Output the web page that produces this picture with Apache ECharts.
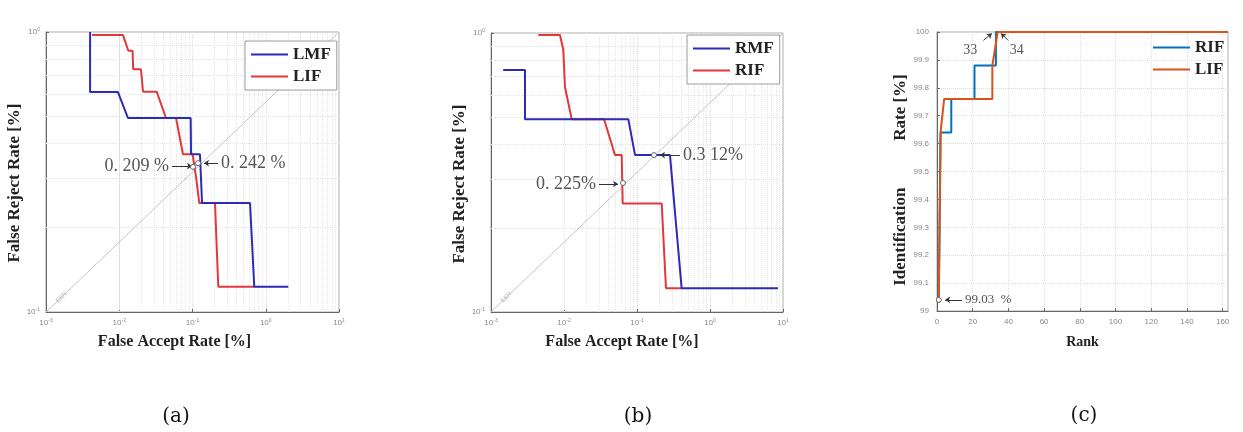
<!DOCTYPE html>
<html><head><meta charset="utf-8">
<script src="https://cdn.jsdelivr.net/npm/echarts@6/dist/echarts.min.js"></script>
<style>html,body{margin:0;padding:0;background:#fff}#c{width:1243px;height:432px}</style>
</head><body><div id="c"></div>
<script>
// ---------- Panel (a): left-side DET curves ----------
const lmfFAR = [0.004, 0.004, 0.0096, 0.01315, 0.0944, 0.0955, 0.1265, 0.135, 0.61, 0.697, 2.03];
const lmfFRR = [1.0, 0.61, 0.61, 0.493, 0.493, 0.366, 0.366, 0.245, 0.245, 0.123, 0.123];
const lifFAR = [0.00425, 0.01125, 0.0133, 0.0152, 0.0155, 0.0198, 0.0211, 0.0324, 0.0435, 0.0596, 0.0741, 0.1003, 0.1117, 0.1238, 0.2027, 0.225, 0.697];
const lifFRR = [0.975, 0.975, 0.857, 0.857, 0.736, 0.736, 0.612, 0.612, 0.493, 0.493, 0.366, 0.366, 0.304, 0.245, 0.245, 0.123, 0.123];
// ---------- Panel (b): right-side DET curves ----------
const rmfFAR = [0.00147, 0.00292, 0.00292, 0.076, 0.0941, 0.283, 0.409, 8.55];
const rmfFRR = [0.737, 0.737, 0.491, 0.491, 0.365, 0.365, 0.1216, 0.1216];
const rifFAR = [0.00445, 0.00881, 0.00978, 0.0103, 0.01275, 0.0354, 0.05, 0.0617, 0.0637, 0.2178, 0.2495, 0.409];
const rifFRR = [0.984, 0.984, 0.869, 0.642, 0.491, 0.491, 0.365, 0.365, 0.245, 0.245, 0.1216, 0.1216];
// ---------- Panel (c): CMC curves ----------
const rifRank = [1, 2, 8, 8, 21, 21, 33, 33, 163];
const rifRate = [99.03, 99.64, 99.64, 99.76, 99.76, 99.88, 99.88, 100, 100];
const lifRank = [1, 2, 4, 31, 31, 34, 163];
const lifRate = [99.03, 99.64, 99.76, 99.76, 99.88, 100, 100];
// EER reference diagonal (FAR, FRR)
const eerFAR = [0.001, 10];
const eerFRR = [0.1, 1];
// minor log grid multipliers and decades
const minorMult = [2, 3, 4, 5, 6, 7, 8, 9];
const decadesX = [0.001, 0.01, 0.1, 1];
// annotations (data units)
const annA = [
  {text: '0. 209 %', from: [0.0525, 0.332], to: [0.0985, 0.332], pt: [0.1016, 0.33]},
  {text: '0. 242 %', from: [0.223, 0.340], to: [0.1436, 0.340], pt: [0.119, 0.340]}
];
const annB = [
  {text: '0. 225%', from: [0.0301, 0.2875], to: [0.0550, 0.2875], pt: [0.0643, 0.290]},
  {text: '0.3 12%', from: [0.388, 0.365], to: [0.2065, 0.365], pt: [0.171, 0.365]}
];
const annC = [
  {text: '33', from: [26.0, 99.970], to: [30.7, 99.995], txt: [18.6, 99.935]},
  {text: '34', from: [39.8, 99.970], to: [35.9, 99.995], txt: [44.7, 99.935]}
];
const annC0 = {text: '99.03  %', from: [14, 99.04], to: [4.6, 99.04], pt: [1, 99.04]};

const serif = '"Liberation Serif", "Times New Roman", serif';
const sans = '"Liberation Sans", Arial, sans-serif';
const pairs = (xs, ys) => xs.map((x, i) => [x, ys[i]]);
const blueA = '#2b2bb8', redA = '#e2383c';
const blueC = '#0072BD', orangeC = '#D95319';

const minorX = [];
decadesX.forEach(d => minorMult.forEach(m => minorX.push(+(m * d).toPrecision(3))));
const minorY = minorMult.map(m => +(m * 0.1).toPrecision(3));

const gridLineStyle = {color: '#dcdcdc', type: 'dotted', width: 1};
const minorLineStyle = {color: '#e4e4e4', type: 'dotted', width: 1};
function minorLines() {
  return minorX.map(v => ({xAxis: v, lineStyle: minorLineStyle, label: {show: false}, symbol: 'none'}))
    .concat(minorY.map(v => ({yAxis: v, lineStyle: minorLineStyle, label: {show: false}, symbol: 'none'})));
}
function arrowItem(a, fs, col) {
  return [
    {coord: a.from, symbol: 'none', lineStyle: {color: '#333', width: 1, type: 'solid'},
     label: {show: true, formatter: a.text, position: 'start', distance: 3, fontFamily: serif, fontSize: fs, color: col}},
    {coord: a.to, symbol: 'arrow', symbolSize: 5}
  ];
}
function circleItem(p) {
  return {coord: p, symbol: 'circle', symbolSize: 5, itemStyle: {color: '#fff', borderColor: '#666', borderWidth: 1}, label: {show: false}};
}
const eerLabelItem = [
  {coord: [eerFAR[0], eerFRR[0]], symbol: 'none', lineStyle: {color: 'rgba(255,255,255,0)', width: 1, type: 'solid'},
   label: {show: true, formatter: 'EER', position: 'insideStart', distance: 14, fontSize: 6, color: '#b0b0b0', fontFamily: sans, backgroundColor: '#fff', padding: [0, 1]}},
  {coord: [eerFAR[1], eerFRR[1]], symbol: 'none'}
];

function logXAxis(gi, pad) {
  return {
    type: 'log', logBase: 10, gridIndex: gi, min: 0.001, max: 10,
    name: 'False Accept Rate [%]', nameLocation: 'middle', nameGap: 22,
    nameTextStyle: {fontFamily: serif, fontWeight: 'bold', fontSize: 16, color: '#222', padding: [0, pad, 0, 0]},
    axisLine: {show: true, lineStyle: {color: '#666'}},
    axisTick: {show: true, inside: true, length: 3, lineStyle: {color: '#666'}},
    axisLabel: {margin: 6, color: '#888', fontSize: 8, fontFamily: sans,
      formatter: v => '10{s|' + Math.round(Math.log10(v)) + '}',
      rich: {s: {fontSize: 5, color: '#888', verticalAlign: 'top', padding: [0, 0, 4, 0]}}},
    splitLine: {show: true, lineStyle: gridLineStyle}
  };
}
function logYAxis(gi, gap, pad) {
  return {
    type: 'log', logBase: 10, gridIndex: gi, min: 0.1, max: 1,
    name: 'False Reject Rate [%]', nameLocation: 'middle', nameGap: gap, nameRotate: 90,
    nameTextStyle: {fontFamily: serif, fontWeight: 'bold', fontSize: 17, color: '#222', padding: [0, pad, 0, 0]},
    axisLine: {show: true, lineStyle: {color: '#666'}},
    axisTick: {show: true, inside: true, length: 3, lineStyle: {color: '#666'}},
    axisLabel: {margin: 6, color: '#888', fontSize: 8, fontFamily: sans,
      formatter: v => '10{s|' + Math.round(Math.log10(v)) + '}',
      rich: {s: {fontSize: 5, color: '#888', verticalAlign: 'top', padding: [0, 0, 4, 0]}}},
    splitLine: {show: true, lineStyle: gridLineStyle}
  };
}
function legendFor(left, top, items, boxed) {
  return {
    left: left, top: top, orient: 'vertical', itemWidth: 37, itemHeight: 2, itemGap: 5,
    icon: 'rect', z: 20,
    padding: boxed ? [5, 6, 5, 6] : 0,
    backgroundColor: boxed ? '#fff' : 'transparent',
    borderColor: boxed ? '#9a9a9a' : 'transparent', borderWidth: boxed ? 1 : 0, borderRadius: 0,
    textStyle: {fontFamily: serif, fontWeight: 'bold', fontSize: 17, color: '#222', lineHeight: 17},
    selectedMode: false,
    data: items.map(it => ({name: it[0], icon: 'rect', itemStyle: {color: it[1], borderWidth: 0}}))
  };
}
const lineBase = {type: 'line', symbol: 'none', showSymbol: false, silent: true, lineStyle: {width: 2}, z: 3};

const option = {
  animation: false,
  backgroundColor: '#fff',
  grid: [
    {left: 46, top: 32, width: 293, height: 280, show: true, borderColor: '#aaa', borderWidth: 1, containLabel: false, outerBoundsMode: 'none'},
    {left: 491, top: 33, width: 292, height: 279, show: true, borderColor: '#aaa', borderWidth: 1, containLabel: false, outerBoundsMode: 'none'},
    {left: 937, top: 32, width: 291, height: 279, show: true, borderColor: '#aaa', borderWidth: 1, containLabel: false, outerBoundsMode: 'none'}
  ],
  xAxis: [
    logXAxis(0, 36),
    logXAxis(1, 30),
    {type: 'value', gridIndex: 2, min: 0, max: 163, interval: 20,
     name: 'Rank', nameLocation: 'middle', nameGap: 24,
     nameTextStyle: {fontFamily: serif, fontWeight: 'bold', fontSize: 14, color: '#222'},
     axisLine: {show: true, lineStyle: {color: '#666'}},
     axisTick: {show: true, inside: true, length: 3, lineStyle: {color: '#666'}},
     axisLabel: {margin: 7, color: '#888', fontSize: 8, fontFamily: sans, showMaxLabel: false},
     splitLine: {show: true, lineStyle: gridLineStyle}}
  ],
  yAxis: [
    logYAxis(0, 17, 22),
    logYAxis(1, 19, 23),
    {type: 'value', gridIndex: 2, min: 99, max: 100, interval: 0.1,
     name: 'Identification           Rate [%]', nameLocation: 'middle', nameGap: 26, nameRotate: 90,
     nameTextStyle: {fontFamily: serif, fontWeight: 'bold', fontSize: 17, color: '#222', padding: [0, 17, 0, 0]},
     axisLine: {show: true, lineStyle: {color: '#666'}},
     axisTick: {show: true, inside: true, length: 3, lineStyle: {color: '#666'}},
     axisLabel: {margin: 8, color: '#888', fontSize: 8, fontFamily: sans, formatter: v => String(Math.round(v * 10) / 10)},
     splitLine: {show: true, lineStyle: gridLineStyle}}
  ],
  legend: [
    legendFor(245, 41, [['LMF', blueA], ['LIF', redA]], true),
    legendFor(687, 35, [['RMF', blueA], ['RIF', redA]], true),
    legendFor(1153, 39, [['RIF', blueC], ['LIF', orangeC]], false)
  ],
  graphic: [
    {type: 'text', x: 176, y: 417, style: {text: '(a)', font: '20px "DejaVu Serif", serif', fill: '#111', align: 'center', verticalAlign: 'middle', textAlign: 'center', textVerticalAlign: 'middle'}},
    {type: 'text', x: 638, y: 417, style: {text: '(b)', font: '20px "DejaVu Serif", serif', fill: '#111', align: 'center', verticalAlign: 'middle', textAlign: 'center', textVerticalAlign: 'middle'}},
    {type: 'text', x: 1084, y: 416, style: {text: '(c)', font: '20px "DejaVu Serif", serif', fill: '#111', align: 'center', verticalAlign: 'middle', textAlign: 'center', textVerticalAlign: 'middle'}}
  ],
  series: [
    // panel (a)
    {type: 'line', name: 'EER-a', xAxisIndex: 0, yAxisIndex: 0, data: pairs(eerFAR, eerFRR), symbol: 'none', silent: true,
     lineStyle: {color: '#c4c4c4', width: 1}, z: 2,
     markLine: {silent: true, z: 1, symbol: 'none', animation: false, data: minorLines().concat([eerLabelItem])}},
    Object.assign({}, lineBase, {name: 'LIF', xAxisIndex: 0, yAxisIndex: 0, data: pairs(lifFAR, lifFRR), itemStyle: {color: redA}, lineStyle: {width: 2, color: redA}}),
    Object.assign({}, lineBase, {name: 'LMF', xAxisIndex: 0, yAxisIndex: 0, data: pairs(lmfFAR, lmfFRR), itemStyle: {color: blueA}, lineStyle: {width: 2, color: blueA},
     markLine: {silent: true, symbol: 'none', animation: false, data: annA.map(a => arrowItem(a, 18, '#555'))},
     markPoint: {silent: true, animation: false, data: annA.map(a => circleItem(a.pt))}}),
    // panel (b)
    {type: 'line', name: 'EER-b', xAxisIndex: 1, yAxisIndex: 1, data: pairs(eerFAR, eerFRR), symbol: 'none', silent: true,
     lineStyle: {color: '#c4c4c4', width: 1}, z: 2,
     markLine: {silent: true, z: 1, symbol: 'none', animation: false, data: minorLines().concat([eerLabelItem])}},
    Object.assign({}, lineBase, {name: 'RIF', xAxisIndex: 1, yAxisIndex: 1, data: pairs(rifFAR, rifFRR), itemStyle: {color: redA}, lineStyle: {width: 2, color: redA}}),
    Object.assign({}, lineBase, {name: 'RMF', xAxisIndex: 1, yAxisIndex: 1, data: pairs(rmfFAR, rmfFRR), itemStyle: {color: blueA}, lineStyle: {width: 2, color: blueA},
     markLine: {silent: true, symbol: 'none', animation: false, data: annB.map(a => arrowItem(a, 18, '#555'))},
     markPoint: {silent: true, animation: false, data: annB.map(a => circleItem(a.pt))}}),
    // panel (c)
    Object.assign({}, lineBase, {name: 'RIF', xAxisIndex: 2, yAxisIndex: 2, data: pairs(rifRank, rifRate), itemStyle: {color: blueC}, lineStyle: {width: 2, color: blueC}}),
    Object.assign({}, lineBase, {name: 'LIF', xAxisIndex: 2, yAxisIndex: 2, data: pairs(lifRank, lifRate), itemStyle: {color: orangeC}, lineStyle: {width: 2, color: orangeC}, z: 4,
     markLine: {silent: true, symbol: 'none', animation: false,
       data: annC.map(a => [
         {coord: a.from, symbol: 'none', lineStyle: {color: '#333', width: 1, type: 'solid'}, label: {show: false}},
         {coord: a.to, symbol: 'arrow', symbolSize: 5}
       ]).concat([arrowItem(annC0, 13, '#555')])},
     markPoint: {silent: true, animation: false,
       data: annC.map(a => ({coord: a.txt, symbol: 'rect', symbolSize: 1, itemStyle: {color: 'rgba(255,255,255,0)'},
         label: {show: true, position: 'inside', formatter: a.text, fontFamily: serif, fontSize: 14, color: '#555'}}))
         .concat([circleItem(annC0.pt)])}})
  ]
};
const chart = echarts.init(document.getElementById('c'));
chart.setOption(option);
</script>
</body></html>
